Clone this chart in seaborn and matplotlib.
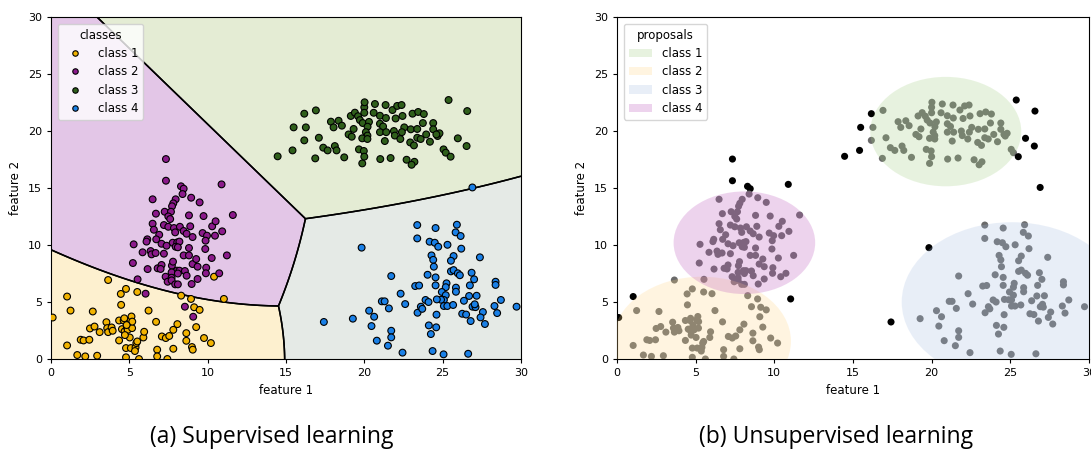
import numpy as np
import pandas as pd
import matplotlib
matplotlib.use("Agg")
import matplotlib.pyplot as plt
import seaborn as sns
from matplotlib.patches import Ellipse, Patch
from matplotlib.colors import ListedColormap

# ---------------- data ----------------
class_names = ["class 1", "class 2", "class 3", "class 4"]

x1 = [0.11, 1.03, 1.25, 1.03, 1.68, 1.9, 2.08, 2.45, 2.19, 2.49, 2.67, 2.78, 2.95, 3.11, 3.54,
      3.59, 3.65, 3.65, 3.87, 3.94, 4.35, 4.35, 4.46, 4.48, 4.53, 4.64, 4.7, 4.79, 4.79, 4.79,
      4.85, 4.9, 5.03, 5.07, 5.14, 5.1, 5.18, 5.4, 5.45, 5.51, 5.51, 5.62, 5.9, 5.95, 6.23,
      6.71, 6.78, 6.78, 7.08, 7.33, 7.43, 7.81, 7.81, 8.07, 8.31, 8.64, 8.64, 8.94, 9.0, 9.05,
      9.14, 9.27, 9.49, 9.77, 10.21, 10.41, 11.04, 4.68, 5.19, 4.83, 4.72, 5.36, 7.55]
y1 = [3.64, 5.48, 4.25, 1.19, 0.35, 1.69, 1.63, 1.69, 0.23, 2.68, 4.17, 2.85, 0.29, 2.36, 3.23,
      2.71, 2.36, 6.93, 2.77, 2.48, 1.63, 3.38, 5.71, 4.75, 2.62, 3.38, 2.42, 6.15, 0.96, 0.15,
      2.77, 2.56, 1.89, 3.44, 3.73, 0.96, 2.71, 1.02, 1.4, 5.88, 1.54, 0.0, 1.89, 2.39, 4.25,
      3.26, 0.82, 0.23, 1.98, 1.84, 0.0, 2.56, 0.9, 3.06, 5.56, 2.27, 1.6, 5.27, 1.05, 0.82,
      4.54, 2.8, 4.31, 1.84, 1.4, 7.22, 5.27, 3.57, 3.28, 2.98, 2.1, 0.7, 2.02]

x2 = [7.34, 7.34, 8.30, 8.47, 8.40, 10.89, 6.49, 7.96, 7.81, 7.73, 8.95, 9.49, 6.70, 7.26, 7.66,
      7.49, 7.61, 8.81, 9.74, 11.61, 6.49, 7.21, 7.49, 6.57, 7.85, 8.23, 8.47, 8.89, 8.66, 7.93,
      6.91, 6.72, 6.15, 6.1, 7.06, 7.77, 8.06, 8.2, 7.96, 8.1, 7.38, 9.04, 9.68, 9.96, 9.87,
      10.29, 10.51, 10.47, 10.93, 5.28, 5.85, 6.36, 6.42, 6.68, 7.21, 8.81, 8.47, 8.81, 9.85,
      10.26, 11.23, 5.23, 6.17, 6.81, 7.06, 7.0, 7.72, 7.79, 8.04, 8.2, 8.55, 9.04, 9.27, 9.36,
      9.91, 9.89, 10.74, 7.32, 7.7, 8.1, 7.7, 8.66, 7.45, 7.7, 7.93, 8.1, 8.98, 9.36, 5.53,
      6.04, 8.55, 9.08]
y2 = [17.54, 15.64, 15.15, 14.94, 14.47, 15.32, 14.01, 14.01, 13.66, 13.4, 14.15, 13.74, 12.75,
      12.92, 12.92, 12.51, 12.28, 12.6, 12.54, 12.63, 11.87, 11.75, 11.6, 11.34, 11.49, 11.6,
      11.23, 11.64, 10.99, 11.11, 10.9, 10.5, 10.5, 10.3, 10.11, 10.2, 10.23, 10.3, 9.85, 9.8,
      9.94, 10.7, 11.05, 10.82, 10.38, 11.64, 12.08, 10.82, 11.2, 10.06, 9.36, 9.47, 9.18, 9.3,
      9.24, 9.74, 9.09, 9.09, 9.65, 8.86, 9.09, 8.42, 7.89, 7.96, 8.25, 7.9, 8.19, 8.54, 7.75,
      7.75, 7.72, 8.33, 8.77, 8.1, 8.01, 7.52, 7.52, 7.22, 7.6, 7.5, 7.13, 7.31, 6.78, 6.9,
      6.55, 6.55, 6.58, 7.02, 6.99, 5.73, 4.59, 3.71]

x3 = [14.47, 15.42, 15.49, 16.17, 16.27, 16.17, 16.91, 17.1, 16.87, 17.38, 17.66, 17.87, 18.04,
      18.12, 18.23, 18.36, 18.57, 18.72, 19.0, 19.2, 19.32, 19.14, 19.4, 19.66, 19.6, 19.72,
      19.9, 20.0, 20.02, 20.0, 20.3, 20.21, 20.1, 20.2, 19.87, 20.2, 19.97, 19.87, 20.0, 20.68,
      20.6, 21.36, 21.0, 21.8, 22.1, 22.38, 22.0, 21.38, 22.44, 23.08, 23.44, 23.8, 25.38,
      26.57, 21.0, 21.2, 21.0, 21.4, 21.31, 21.89, 21.95, 22.3, 22.55, 22.4, 22.97, 23.38,
      23.38, 23.6, 22.93, 23.17, 23.74, 23.95, 24.19, 24.4, 24.4, 24.68, 24.8, 24.6, 25.06,
      25.2, 25.51, 25.97, 26.53, 21.02, 21.68, 22.7, 23.2, 23.02]
y3 = [17.78, 18.3, 20.32, 21.52, 20.32, 19.18, 21.81, 19.41, 17.6, 18.54, 18.3, 20.82, 20.32,
      18.68, 18.3, 20.9, 20.47, 17.69, 19.7, 19.5, 20.18, 21.32, 21.61, 18.39, 21.3, 20.96,
      20.7, 22.08, 22.52, 21.6, 20.8, 20.38, 19.9, 19.6, 19.36, 19.3, 18.25, 17.16, 17.75,
      22.37, 21.6, 22.28, 21.34, 21.84, 22.2, 22.28, 21.1, 21.14, 21.32, 21.52, 21.67, 21.49,
      22.72, 21.75, 20.64, 20.4, 19.9, 19.9, 19.12, 20.0, 19.6, 19.3, 20.32, 19.9, 20.15,
      20.18, 19.41, 19.3, 19.0, 18.74, 20.7, 19.7, 19.06, 20.7, 20.15, 19.56, 19.8, 19.7,
      18.39, 18.1, 17.75, 19.36, 18.68, 17.54, 17.63, 17.48, 17.3, 17.04]

x4 = [19.83, 23.38, 23.38, 21.72, 23.25, 23.5, 22.32, 21.12, 21.3, 22.61, 21.57, 23.4, 20.31,
      20.63, 19.27, 17.42, 20.46, 21.72, 21.72, 20.8, 21.51, 22.44, 24.55, 25.91, 25.83, 26.15,
      24.17, 24.5, 24.72, 25.31, 26.19, 27.38, 24.29, 24.4, 25.7, 25.53, 24.44, 25.53, 25.7,
      25.97, 26.1, 26.85, 24.04, 24.55, 27.01, 28.38, 28.38, 24.55, 25.25, 25.2, 25.85, 25.85,
      24.95, 25.2, 26.74, 26.69, 27.17, 25.08, 24.9, 28.72, 23.91, 24.1, 24.63, 26.36, 25.08,
      25.3, 25.67, 26.91, 27.1, 27.05, 28.31, 23.61, 23.7, 29.72, 27.57, 28.48, 26.25, 26.5,
      27.42, 26.79, 27.7, 24.61, 24.12, 24.59, 24.25, 24.36, 25.06, 26.63, 26.9]
y4 = [9.77, 11.75, 10.58, 7.28, 6.4, 6.45, 5.73, 5.06, 5.06, 4.82, 4.44, 4.06, 4.24, 3.71, 3.54,
      3.25, 2.89, 2.48, 1.9, 1.61, 1.17, 0.56, 11.49, 11.78, 11.11, 10.79, 10.29, 10.2, 9.85,
      10.02, 9.68, 8.92, 9.09, 8.7, 9.03, 8.62, 8.1, 7.69, 7.8, 7.52, 7.35, 7.57, 7.39, 7.16,
      6.99, 6.78, 6.5, 6.46, 6.64, 6.3, 6.26, 5.9, 5.88, 5.6, 6.46, 5.53, 5.55, 5.18, 5.2,
      5.18, 5.18, 5.0, 5.23, 5.11, 4.65, 4.65, 4.74, 4.59, 4.55, 4.8, 4.65, 4.59, 4.4, 4.59,
      4.12, 4.03, 3.97, 3.9, 3.65, 3.33, 3.07, 3.89, 2.95, 2.78, 2.19, 0.7, 0.41, 0.46, 15.05]

# unsupervised proposals (circles in data units)
proposal_names = ["class 1", "class 2", "class 3", "class 4"]
proposal_cx = [20.9, 5.4, 25.1, 8.1]
proposal_cy = [19.95, 1.56, 5.0, 10.2]
proposal_r = [4.8, 5.66, 7.0, 4.5]

# ---------------- styles ----------------
point_colors = ["#f2b300", "#8b1a8b", "#2f5f1b", "#1a80e6"]
region_colors = ["#fdf0cf", "#e3c6e7", "#e4ecd4", "#e5eae6"]
proposal_colors = ["#a3cf83", "#ffd787", "#a7bfe3", "#bb53bb"]
shrink = 0.7  # covariance shrinkage of the gaussian classifier

plt.rcParams["font.family"] = "DejaVu Sans"
plt.rcParams["font.size"] = 8

xs = [x1, x2, x3, x4]
ys = [y1, y2, y3, y4]
df = pd.concat([pd.DataFrame({"feature 1": x, "feature 2": y, "cls": n})
                for x, y, n in zip(xs, ys, class_names)], ignore_index=True)

fig = plt.figure(figsize=(10.91, 4.49), dpi=100)
axA = fig.add_axes([0.0467, 0.2004, 0.4308, 0.7617])
axB = fig.add_axes([0.5655, 0.2004, 0.4326, 0.7617])

# ---------- panel (a): regularised gaussian classifier fitted to the data ----------
g = np.linspace(0, 30, 700)
GX, GY = np.meshgrid(g, g)
scores = []
for x, y in zip(xs, ys):
    P = np.vstack([x, y]); m = P.mean(axis=1); C = np.cov(P)
    C = (1 - shrink) * C + shrink * np.trace(C) / 2 * np.eye(2)
    Ci = np.linalg.inv(C)
    dx = GX - m[0]; dy = GY - m[1]
    q = Ci[0, 0] * dx * dx + 2 * Ci[0, 1] * dx * dy + Ci[1, 1] * dy * dy
    scores.append(-0.5 * q - 0.5 * np.log(np.linalg.det(C)))
scores = np.array(scores)
lab = scores.argmax(axis=0)
axA.imshow(lab, extent=[0, 30, 0, 30], origin="lower", aspect="auto",
           cmap=ListedColormap(region_colors), vmin=-0.5, vmax=3.5,
           interpolation="nearest", zorder=0)
for k in range(4):
    other = np.delete(scores, k, axis=0).max(axis=0)
    axA.contour(GX, GY, scores[k] - other, levels=[0], colors="black",
                linewidths=1.1, zorder=1)

sns.scatterplot(data=df, x="feature 1", y="feature 2", hue="cls",
                palette=point_colors, hue_order=class_names, s=24,
                edgecolor="black", linewidth=0.8, ax=axA, zorder=3)
h, l = axA.get_legend_handles_labels()
axA.legend(h, l, title="classes", loc="upper left", fontsize=8.5, title_fontsize=8.5,
           markerscale=0.8, handletextpad=1.0, labelspacing=0.45, borderaxespad=0.6)

# ---------- panel (b): unsupervised proposals ----------
px = df["feature 1"].to_numpy(); py = df["feature 2"].to_numpy()
inside = np.zeros(len(df), bool)
for cx, cy, r in zip(proposal_cx, proposal_cy, proposal_r):
    inside |= (px - cx) ** 2 + (py - cy) ** 2 <= r ** 2
dfb = df.assign(state=np.where(inside, "in", "out"))
sns.scatterplot(data=dfb, x="feature 1", y="feature 2", hue="state",
                palette={"in": "#6a6a6a", "out": "black"}, s=26,
                linewidth=0, ax=axB, legend=False, zorder=2)
handles = []
for cx, cy, r, c, n in zip(proposal_cx, proposal_cy, proposal_r, proposal_colors, proposal_names):
    axB.add_patch(Ellipse((cx, cy), 2 * r, 2 * r, facecolor=c, edgecolor="none",
                          alpha=0.25, zorder=3))
    handles.append(Patch(facecolor=c, alpha=0.25, edgecolor="none", label=n))
axB.legend(handles=handles, title="proposals", loc="upper left", fontsize=8.5,
           title_fontsize=8.5, labelspacing=0.45, borderaxespad=0.6)

for ax in (axA, axB):
    ax.set_xlim(0, 30)
    ax.set_ylim(0, 30)
    ax.set_xticks([0, 5, 10, 15, 20, 25, 30])
    ax.set_yticks([0, 5, 10, 15, 20, 25, 30])
    ax.set_xlabel("feature 1", fontsize=8.5)
    ax.set_ylabel("feature 2", fontsize=8.5)
    ax.tick_params(labelsize=8, length=3, width=0.8)
    for sp in ax.spines.values():
        sp.set_linewidth(0.8)
        sp.set_visible(True)

fig.text(0.2493, 0.027, "(a) Supervised learning", ha="center", va="center",
         fontsize=16.5, family="Open Sans")
fig.text(0.766, 0.027, "(b) Unsupervised learning", ha="center", va="center",
         fontsize=16.5, family="Open Sans")

fig.savefig("out.png", dpi=100)
